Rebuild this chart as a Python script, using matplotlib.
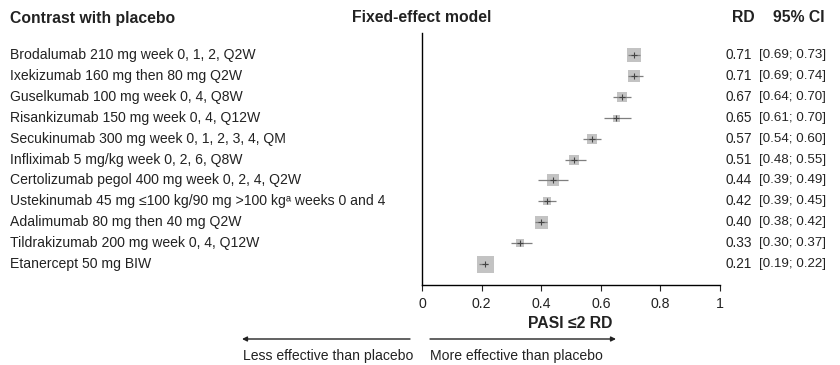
import matplotlib
matplotlib.use("Agg")
import matplotlib.pyplot as plt
from matplotlib.patches import FancyArrowPatch
from matplotlib.transforms import blended_transform_factory

plt.rcParams["font.family"] = ["Liberation Sans", "DejaVu Sans"]

treatments = [
    "Brodalumab 210 mg week 0, 1, 2, Q2W",
    "Ixekizumab 160 mg then 80 mg Q2W",
    "Guselkumab 100 mg week 0, 4, Q8W",
    "Risankizumab 150 mg week 0, 4, Q12W",
    "Secukinumab 300 mg week 0, 1, 2, 3, 4, QM",
    "Infliximab 5 mg/kg week 0, 2, 6, Q8W",
    "Certolizumab pegol 400 mg week 0, 2, 4, Q2W",
    "Ustekinumab 45 mg \u2264100 kg/90 mg >100 kg\u1d43 weeks 0 and 4",
    "Adalimumab 80 mg then 40 mg Q2W",
    "Tildrakizumab 200 mg week 0, 4, Q12W",
    "Etanercept 50 mg BIW",
]
rd = [0.71, 0.71, 0.67, 0.65, 0.57, 0.51, 0.44, 0.42, 0.40, 0.33, 0.21]
ci_low = [0.69, 0.69, 0.64, 0.61, 0.54, 0.48, 0.39, 0.39, 0.38, 0.30, 0.19]
ci_high = [0.73, 0.74, 0.70, 0.70, 0.60, 0.55, 0.49, 0.45, 0.42, 0.37, 0.22]
# relative study weight, drives the size of each square
weights = [14, 12, 10.5, 7, 10.5, 10, 12, 7.5, 13, 8.5, 17]
xticks = [0, 0.2, 0.4, 0.6, 0.8, 1]

W, H = 840, 365
fig = plt.figure(figsize=(W / 100, H / 100), dpi=100)


def fx(px):
    return px / W


def fy(py):
    return 1 - py / H


TXT = "#222222"
ax_left, ax_right, ax_top, ax_bottom = 422, 720, 33, 285
ax = fig.add_axes([fx(ax_left), fy(ax_bottom), fx(ax_right - ax_left),
                   (ax_bottom - ax_top) / H])

n = len(rd)
ys = list(range(n))
for y, m, lo, hi, w in zip(ys, rd, ci_low, ci_high, weights):
    ax.plot([lo, hi], [y, y], color="#7f7f7f", lw=0.9, zorder=2,
            solid_capstyle="butt")
    ax.plot(m, y, marker="s", markersize=w * 0.72, color="#c3c3c3",
            markeredgewidth=0, zorder=1, linestyle="none")
    ax.plot(m, y, marker="+", markersize=5, color="#444444",
            markeredgewidth=0.8, zorder=3, linestyle="none")

ax.set_xlim(0, 1)
ax.set_ylim(n - 1 + 1.0, -1.05)
ax.set_xticks(xticks)
ax.set_xticklabels([f"{t:g}" for t in xticks])
ax.set_yticks([])
for s in ("top", "right"):
    ax.spines[s].set_visible(False)
ax.spines["left"].set_linewidth(1.0)
ax.spines["bottom"].set_linewidth(1.0)
ax.tick_params(axis="x", direction="out", length=4, width=0.8,
               labelsize=10.2, pad=5, colors=TXT)

# row labels and numeric columns
row_tf = blended_transform_factory(fig.transFigure, ax.transData)
for y, name, m, lo, hi in zip(ys, treatments, rd, ci_low, ci_high):
    fig.text(fx(10), y, name, transform=row_tf, fontsize=10.1,
             va="center", ha="left", color=TXT)
    fig.text(fx(752), y, f"{m:.2f}", transform=row_tf, fontsize=9.8,
             va="center", ha="right", color=TXT)
    fig.text(fx(826), y, f"[{lo:.2f}; {hi:.2f}]", transform=row_tf,
             fontsize=9.6, va="center", ha="right", color=TXT)

# column headers
hdr = dict(fontsize=11.3, fontweight="bold", va="center", color=TXT)
fig.text(fx(10), fy(18), "Contrast with placebo", ha="left", **hdr)
fig.text(fx(352), fy(18), "Fixed-effect model", ha="left", **hdr)
fig.text(fx(732), fy(18), "RD", ha="left", **hdr)
fig.text(fx(825), fy(18), "95% CI", ha="right", **hdr)

# x-axis title
fig.text(fx(612), fy(324), "PASI \u22642 RD", ha="right", va="center",
         fontsize=11.3, fontweight="bold", color=TXT)

# direction arrows
arrow_kw = dict(arrowstyle="-|>", color=TXT, lw=1.0,
                mutation_scale=7, shrinkA=0, shrinkB=0)
fig.add_artist(FancyArrowPatch(
    (fx(410), fy(339)), (fx(242), fy(339)), transform=fig.transFigure,
    **arrow_kw))
fig.add_artist(FancyArrowPatch(
    (fx(430), fy(339)), (fx(616), fy(339)), transform=fig.transFigure,
    **arrow_kw))
fig.text(fx(243), fy(356), "Less effective than placebo", ha="left",
         va="center", fontsize=10.1, color=TXT)
fig.text(fx(430), fy(356), "More effective than placebo", ha="left",
         va="center", fontsize=10.1, color=TXT)

fig.savefig("out.png", dpi=100)
